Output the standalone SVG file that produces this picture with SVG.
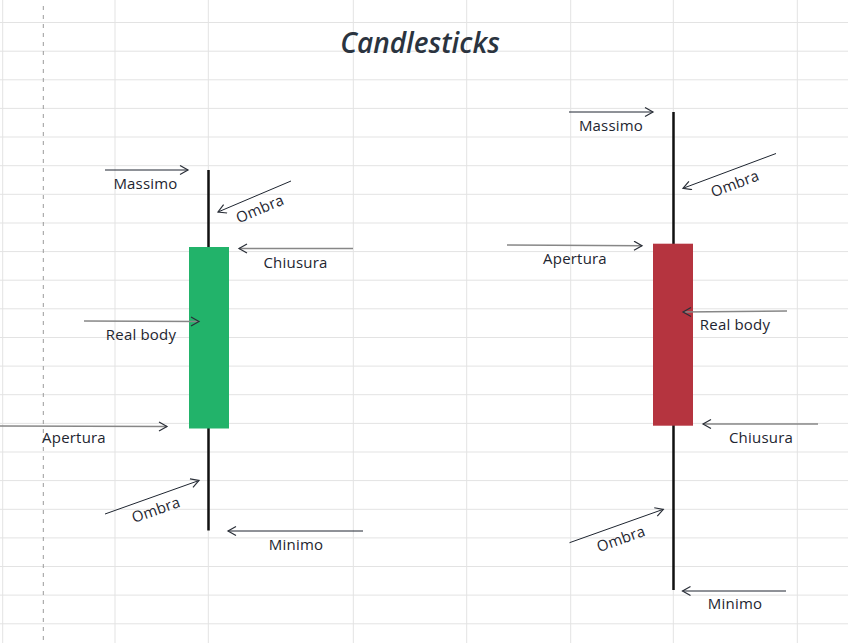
<svg xmlns="http://www.w3.org/2000/svg" width="848" height="643" viewBox="0 0 848 643">
<defs>
<style>
.grid line{stroke:#e3e3e3;stroke-width:1}
.lbl{font-family:"Open Sans","Liberation Sans",sans-serif;font-size:15px;font-weight:500;fill:#1e2530;text-anchor:middle;letter-spacing:0.2px}
.title{font-family:"Open Sans","Liberation Sans",sans-serif;font-size:28px;font-style:italic;font-weight:600;fill:#2b3440;text-anchor:middle}
.ar{stroke:#1e2530;stroke-width:1;fill:none;marker-end:url(#h)}
.arg{stroke:#878787;stroke-width:1.6;fill:none;marker-end:url(#h)}
.wick{stroke:#111;stroke-width:2.5}
</style>
<marker id="h" markerUnits="userSpaceOnUse" markerWidth="12" markerHeight="12" refX="9" refY="5" orient="auto">
<path d="M1,0.5 L9,5 L1,9.5" fill="none" stroke="#2a2f38" stroke-width="1.2"/>
</marker>
</defs>
<rect width="848" height="643" fill="#fff"/>
<g class="grid">
<line x1="0" y1="22.5" x2="848" y2="22.5"/>
<line x1="0" y1="51.2" x2="848" y2="51.2"/>
<line x1="0" y1="79.8" x2="848" y2="79.8"/>
<line x1="0" y1="108.4" x2="848" y2="108.4"/>
<line x1="0" y1="137" x2="848" y2="137"/>
<line x1="0" y1="165.7" x2="848" y2="165.7"/>
<line x1="0" y1="194.3" x2="848" y2="194.3"/>
<line x1="0" y1="223" x2="848" y2="223"/>
<line x1="0" y1="251.6" x2="848" y2="251.6"/>
<line x1="0" y1="280.2" x2="848" y2="280.2"/>
<line x1="0" y1="308.8" x2="848" y2="308.8"/>
<line x1="0" y1="337.5" x2="848" y2="337.5"/>
<line x1="0" y1="366.1" x2="848" y2="366.1"/>
<line x1="0" y1="394.7" x2="848" y2="394.7"/>
<line x1="0" y1="423.4" x2="848" y2="423.4"/>
<line x1="0" y1="452" x2="848" y2="452"/>
<line x1="0" y1="480.6" x2="848" y2="480.6"/>
<line x1="0" y1="509.3" x2="848" y2="509.3"/>
<line x1="0" y1="537.9" x2="848" y2="537.9"/>
<line x1="0" y1="566.5" x2="848" y2="566.5"/>
<line x1="0" y1="595.1" x2="848" y2="595.1"/>
<line x1="0" y1="623.8" x2="848" y2="623.8"/>
<line x1="2.7" y1="0" x2="2.7" y2="643"/>
<line x1="115" y1="0" x2="115" y2="643"/>
<line x1="208.3" y1="0" x2="208.3" y2="643"/>
<line x1="353.3" y1="0" x2="353.3" y2="643"/>
<line x1="466.7" y1="0" x2="466.7" y2="643"/>
<line x1="570.7" y1="0" x2="570.7" y2="643"/>
<line x1="673.3" y1="0" x2="673.3" y2="643"/>
<line x1="797.3" y1="0" x2="797.3" y2="643"/>
</g>
<line x1="43.3" y1="6" x2="43.3" y2="643" stroke="#9a9a9a" stroke-width="1" stroke-dasharray="4,5"/>
<text class="title" x="420" y="53">Candlesticks</text>

<g id="candle-green">
<line class="wick" x1="208.5" y1="170" x2="208.5" y2="530.5"/>
<rect x="189" y="247" width="40" height="181.5" fill="#22b36a"/>
</g>
<g id="candle-red">
<line class="wick" x1="673.5" y1="112" x2="673.5" y2="590"/>
<rect x="653" y="243.7" width="40" height="182" fill="#b5343f"/>
</g>

<g id="connectors">
<line class="ar" x1="105" y1="170" x2="188" y2="170"/>
<line class="ar" x1="291" y1="181" x2="218" y2="212"/>
<line class="arg" x1="353" y1="248.5" x2="239" y2="248.5"/>
<line class="arg" x1="84" y1="321" x2="199" y2="321.5"/>
<line class="arg" x1="0" y1="426" x2="167" y2="426.5"/>
<line class="ar" x1="105" y1="514" x2="199" y2="480.5"/>
<line class="ar" x1="363" y1="531" x2="228" y2="531"/>

<line class="ar" x1="569" y1="112" x2="653" y2="112"/>
<line class="ar" x1="776" y1="153.5" x2="683" y2="188.3"/>
<line class="arg" x1="507" y1="245" x2="642" y2="245.7"/>
<line class="arg" x1="787" y1="311" x2="683" y2="312"/>
<line class="arg" x1="818" y1="424" x2="703" y2="424"/>
<line class="ar" x1="569.5" y1="542.7" x2="663.3" y2="509.3"/>
<line class="ar" x1="786" y1="591" x2="682.5" y2="591"/>
</g>

<g id="labels-green">
<text class="lbl" x="145.5" y="189">Massimo</text>
<text class="lbl" transform="translate(260,209) rotate(-23)" y="5">Ombra</text>
<text class="lbl" x="295.5" y="268">Chiusura</text>
<text class="lbl" x="141" y="340">Real body</text>
<text class="lbl" x="74" y="443">Apertura</text>
<text class="lbl" transform="translate(156,510) rotate(-19.5)" y="5">Ombra</text>
<text class="lbl" x="296" y="550">Minimo</text>
</g>
<g id="labels-red">
<text class="lbl" x="611" y="131">Massimo</text>
<text class="lbl" transform="translate(735,184) rotate(-20.6)" y="5">Ombra</text>
<text class="lbl" x="575" y="264">Apertura</text>
<text class="lbl" x="735" y="330">Real body</text>
<text class="lbl" x="761" y="443">Chiusura</text>
<text class="lbl" transform="translate(621,539) rotate(-19.6)" y="5">Ombra</text>
<text class="lbl" x="735" y="609">Minimo</text>
</g>
</svg>
